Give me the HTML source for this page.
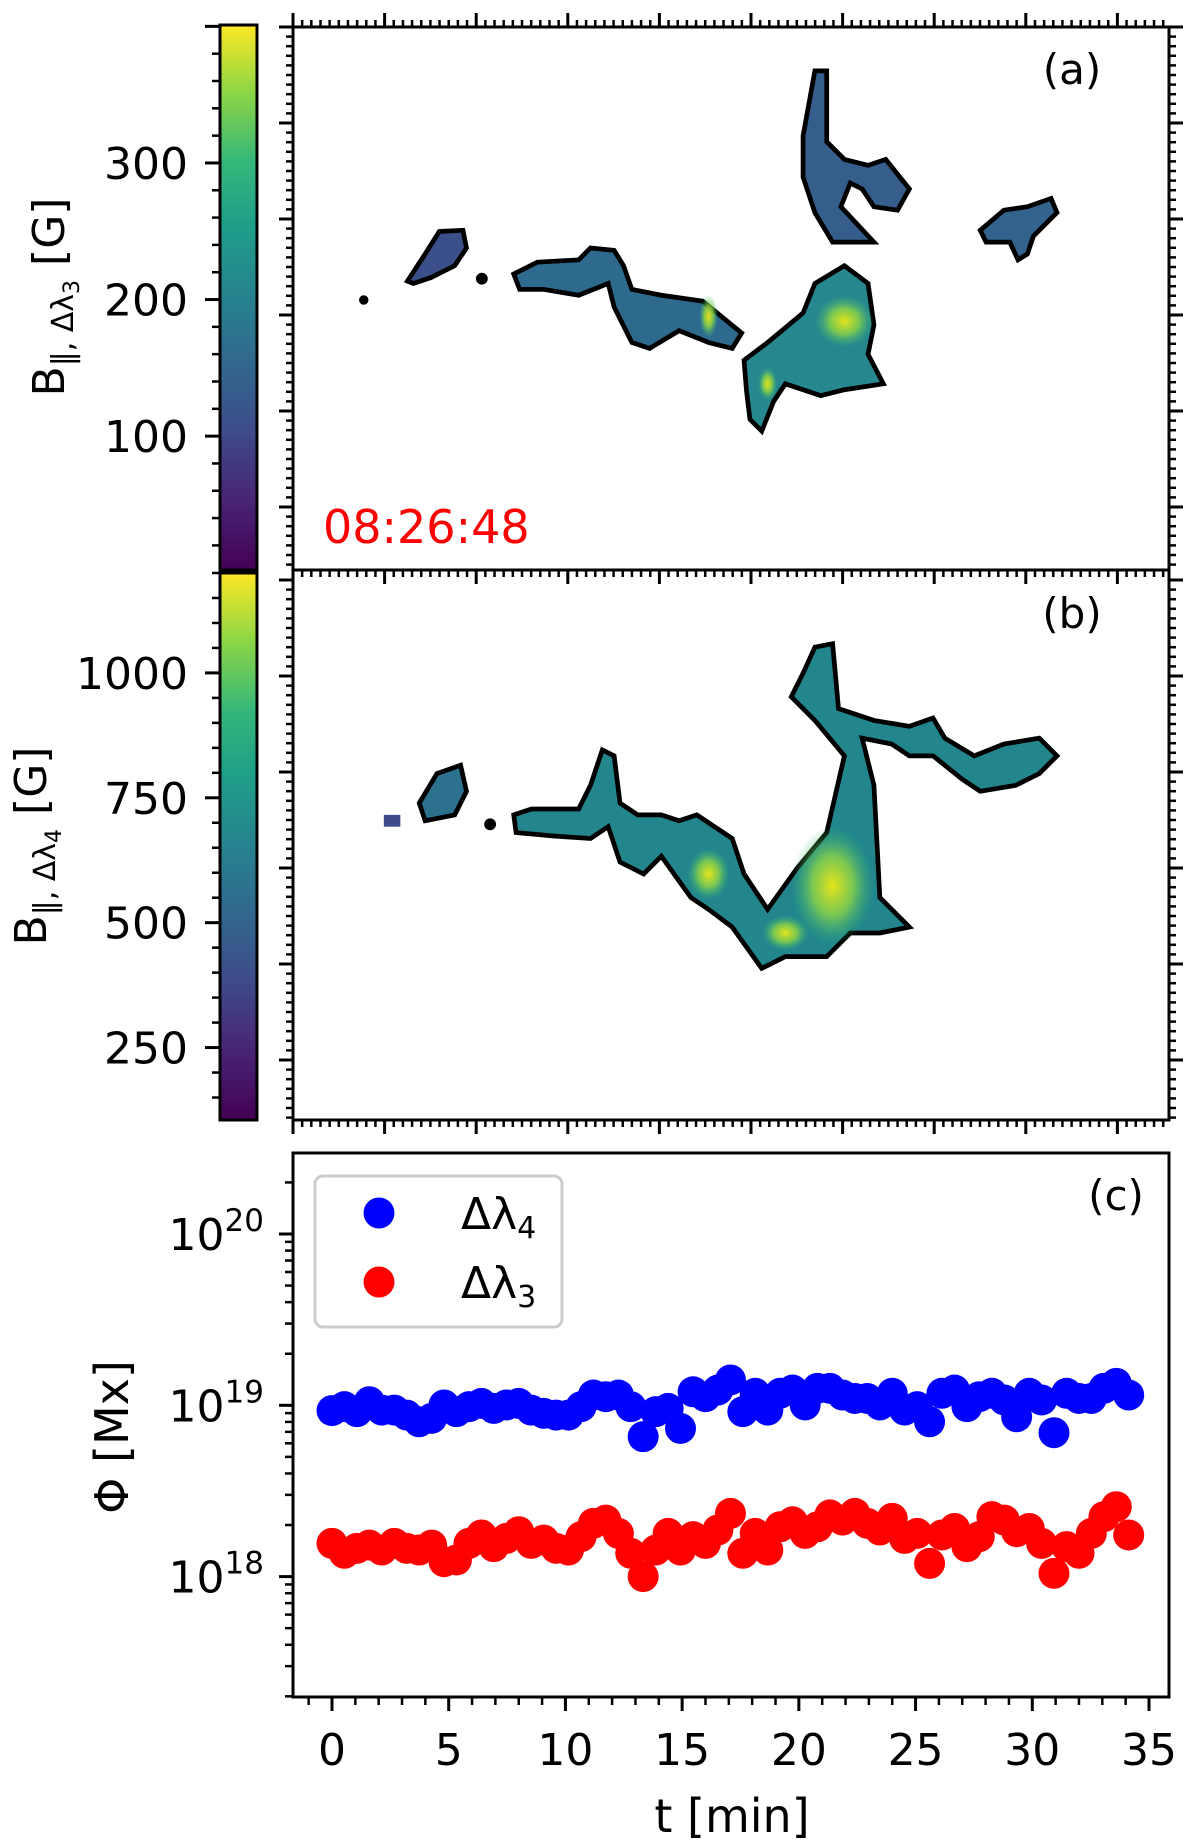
<!DOCTYPE html>
<html><head><meta charset="utf-8">
<style>
html,body{margin:0;padding:0;background:#fff;}
svg{display:block;font-family:"DejaVu Sans","Liberation Sans",sans-serif;}
</style></head>
<body>
<svg id="fig" width="1200" height="1846" viewBox="0 0 1200 1846" xmlns="http://www.w3.org/2000/svg">
<defs>
<linearGradient id="viridis" x1="0" y1="1" x2="0" y2="0">
<stop offset="0" stop-color="#440154"/><stop offset="0.13" stop-color="#482576"/>
<stop offset="0.25" stop-color="#3e4a89"/><stop offset="0.38" stop-color="#31688e"/>
<stop offset="0.5" stop-color="#26828e"/><stop offset="0.63" stop-color="#1f9e89"/>
<stop offset="0.75" stop-color="#35b779"/><stop offset="0.88" stop-color="#90d743"/>
<stop offset="1" stop-color="#fde725"/>
</linearGradient>
<radialGradient id="hot"><stop offset="0" stop-color="#e8e419"/><stop offset="0.5" stop-color="#8fd744" stop-opacity="0.8"/><stop offset="1" stop-color="#35b779" stop-opacity="0"/></radialGradient>
</defs>

<rect x="220" y="25" width="37" height="545" fill="url(#viridis)" stroke="#000" stroke-width="3"/>
<rect x="220" y="573" width="37" height="547" fill="url(#viridis)" stroke="#000" stroke-width="3"/>
<g id="cbticks"></g>

<text transform="translate(64,297) rotate(-90)" text-anchor="middle" font-size="44">B<tspan font-size="30" dy="9">‖, Δλ</tspan><tspan font-size="22" dy="6">3</tspan><tspan dy="-15"> [G]</tspan></text>
<text transform="translate(46,846) rotate(-90)" text-anchor="middle" font-size="44">B<tspan font-size="30" dy="9">‖, Δλ</tspan><tspan font-size="22" dy="6">4</tspan><tspan dy="-15"> [G]</tspan></text>

<g transform="scale(1.181)" stroke="#000" stroke-width="4" stroke-linejoin="miter">
<polygon fill="#3b4f8a" points="345,238 360,215 372,196 392,195 395,210 385,225 365,235 350,240"/>
<polygon fill="#2d6a8e" points="435,232 455,222 490,220 500,210 520,212 528,225 535,245 560,250 595,255 628,282 620,295 600,290 575,280 550,295 535,290 520,260 515,240 490,250 460,245 440,245"/>
<polygon fill="#27878e" points="630,305 650,290 680,265 690,240 715,225 735,240 740,275 735,300 748,325 715,330 695,335 665,325 655,340 645,365 635,355 632,330"/>
<polygon fill="#365e8d" points="680,115 690,60 700,60 700,120 715,135 735,140 750,135 762,150 770,160 760,178 740,175 730,160 720,155 712,175 740,205 705,205 690,180 680,150"/>
<polygon fill="#33638d" points="830,195 850,178 870,175 890,168 895,180 875,200 870,215 862,220 855,205 835,205"/>
<ellipse fill="url(#hot)" stroke="none" cx="600" cy="268" rx="8" ry="18"/>
<ellipse fill="url(#hot)" stroke="none" cx="715" cy="272" rx="25" ry="22"/>
<ellipse fill="url(#hot)" stroke="none" cx="650" cy="325" rx="8" ry="14"/>
<circle cx="308" cy="254" r="2" fill="#000"/><circle cx="408" cy="236" r="3" fill="#000"/>
</g>
<g transform="scale(1.181)" stroke="#000" stroke-width="4" stroke-linejoin="miter">
<polygon fill="#2c728e" points="355,680 370,655 390,648 395,670 385,690 360,695"/>
<polygon fill="#22868c" points="435,690 450,685 490,685 500,665 510,635 520,640 525,680 540,690 560,690 575,695 590,690 620,710 630,740 650,770 675,735 700,705 715,640 690,610 670,590 680,570 690,548 705,545 710,600 740,610 770,615 790,608 800,625 825,640 850,630 880,625 895,640 880,655 860,665 830,670 815,660 790,640 770,640 755,630 730,625 740,665 745,760 770,785 745,790 720,790 700,810 665,810 645,820 620,785 600,770 585,760 560,725 545,740 525,730 515,700 500,710 470,708 437,705"/>
<ellipse fill="url(#hot)" stroke="none" cx="705" cy="750" rx="35" ry="50"/>
<ellipse fill="url(#hot)" stroke="none" cx="600" cy="740" rx="18" ry="22"/>
<ellipse fill="url(#hot)" stroke="none" cx="665" cy="790" rx="20" ry="15"/>
<rect x="325" y="690" width="14" height="10" fill="#3e4a89" stroke="none"/>
<circle cx="415" cy="698" r="3" fill="#000"/>
</g>
<rect x="293" y="27" width="876" height="543" fill="none" stroke="#000" stroke-width="3"/>
<rect x="293" y="570" width="876" height="550" fill="none" stroke="#000" stroke-width="3"/>
<g id="mapticks"></g>
<text x="1072" y="84" text-anchor="middle" font-size="42">(a)</text>
<text x="1072" y="628" text-anchor="middle" font-size="42">(b)</text>
<text x="323" y="543" font-size="46" fill="#ff0000">08:26:48</text>

<g id="plotc"></g>
<rect x="293" y="1153" width="876" height="544" fill="none" stroke="#000" stroke-width="3"/>
<text x="1116" y="1210" text-anchor="middle" font-size="42">(c)</text>
<g>
<rect x="315" y="1176" width="247" height="151" rx="8" fill="#fff" fill-opacity="0.8" stroke="#cccccc" stroke-width="3"/>
<circle cx="379" cy="1213" r="15.5" fill="#0000ff"/>
<circle cx="379" cy="1282" r="15.5" fill="#ff0000"/>
<text x="461" y="1229" font-size="44">Δλ<tspan font-size="30" dy="9">4</tspan></text>
<text x="461" y="1298" font-size="44">Δλ<tspan font-size="30" dy="9">3</tspan></text>
</g>
<text transform="translate(128,1437) rotate(-90)" text-anchor="middle" font-size="46">Φ [Mx]</text>
<text x="732" y="1832" text-anchor="middle" font-size="46">t [min]</text>
</svg>
<script>
const times = [0,0.53,1.07,1.6,2.13,2.67,3.2,3.73,4.27,4.8,5.33,5.87,6.4,6.93,7.47,8,8.53,9.07,9.6,10.13,10.67,11.2,11.73,12.27,12.8,13.33,13.87,14.4,14.93,15.47,16,16.53,17.07,17.6,18.13,18.67,19.2,19.73,20.27,20.8,21.33,21.87,22.4,22.93,23.47,24,24.53,25.07,25.6,26.13,26.67,27.2,27.73,28.27,28.8,29.33,29.87,30.4,30.93,31.47,32,32.53,33.07,33.6,34.13];
const logFluxDl4 = [18.969,18.992,18.963,19.021,18.972,18.972,18.943,18.904,18.924,19.002,18.963,18.992,19.011,18.982,19.002,19.011,18.972,18.953,18.943,18.943,18.992,19.060,19.050,19.060,18.992,18.817,18.963,18.982,18.865,19.079,19.050,19.089,19.148,18.963,19.070,18.972,19.070,19.089,19.002,19.099,19.099,19.060,19.040,19.040,19.002,19.070,18.972,18.992,18.904,19.070,19.089,18.992,19.050,19.070,19.031,18.933,19.070,19.031,18.840,19.070,19.040,19.040,19.099,19.128,19.060];
const logFluxDl3 = [18.194,18.136,18.165,18.184,18.155,18.194,18.165,18.155,18.184,18.087,18.097,18.194,18.243,18.175,18.223,18.262,18.194,18.213,18.165,18.155,18.233,18.311,18.330,18.252,18.136,18.000,18.155,18.252,18.155,18.233,18.194,18.272,18.369,18.136,18.252,18.155,18.291,18.320,18.252,18.291,18.360,18.330,18.369,18.311,18.272,18.340,18.223,18.252,18.077,18.243,18.281,18.175,18.233,18.350,18.330,18.262,18.281,18.194,18.019,18.175,18.136,18.252,18.350,18.408,18.243];
const xTicks = [0,5,10,15,20,25,30,35];
const yTickExps = [18,19,20];
const cbATicks = [100,200,300];
const cbBTicks = [250,500,750,1000];

const NS = "http://www.w3.org/2000/svg";
function mk(parent, tag, attrs){const e=document.createElementNS(NS,tag);for(const k in attrs)e.setAttribute(k,attrs[k]);parent.appendChild(e);return e;}
const X0=332, XS=(1149-332)/35;
const sx = t => X0 + t*XS;
const sy = lg => 1234 + (20-lg)*171.3;
const plot = document.getElementById('plotc');

for(let m=-2;m<=36;m++){const x=sx(m); if(x<293||x>1169) continue;
  const major = m%5===0;
  const l=mk(plot,'line',{x1:x,y1:1697,x2:x,y2:1697+(major?14:8),stroke:'#000','stroke-width':major?3:2.5});
  
  
}
xTicks.forEach(v=>{const t=mk(plot,'text',{x:sx(v),y:1765,'text-anchor':'middle','font-size':44});t.textContent=v;
  
  });
for(let d=17;d<=20;d++){for(let k=1;k<10;k++){const y=sy(d+Math.log10(k)); if(y<1153||y>1697) continue;
  const l=mk(plot,'line',{x1:293,y1:y,x2:293-(k===1?14:8),y2:y,stroke:'#000','stroke-width':k===1?3:2.5});
  
  }}
yTickExps.forEach(e=>{const t=mk(plot,'text',{x:264,y:sy(e)+16,'text-anchor':'end','font-size':44});
  t.innerHTML='10<tspan font-size="31" dy="-19">'+e+'</tspan>';
  
  });
times.forEach((t,i)=>{const c=mk(plot,'circle',{cx:sx(t),cy:sy(logFluxDl4[i]),r:15.5,fill:'#0000ff'});
  
  });
times.forEach((t,i)=>{const c=mk(plot,'circle',{cx:sx(t),cy:sy(logFluxDl3[i]),r:15.5,fill:'#ff0000'});
  
  });

const cb=document.getElementById('cbticks');
const cya = v => 570 - (v-2)*(545/399);
const cyb = v => 1120 - (v-105)*(547/1095);
for(let v=20;v<=400;v+=20){const y=cya(v);if(y<25)continue;const mj=v%100===0;mk(cb,'line',{x1:220,y1:y,x2:220-(mj?15:8),y2:y,stroke:'#000','stroke-width':mj?3:2.5});}
for(let v=150;v<=1200;v+=50){const y=cyb(v);if(y<573)continue;const mj=v%250===0;mk(cb,'line',{x1:220,y1:y,x2:220-(mj?15:8),y2:y,stroke:'#000','stroke-width':mj?3:2.5});}
cbATicks.forEach(v=>{const t=mk(cb,'text',{x:188,y:cya(v)+16,'text-anchor':'end','font-size':44});t.textContent=v;
  
  });
cbBTicks.forEach(v=>{const t=mk(cb,'text',{x:188,y:cyb(v)+16,'text-anchor':'end','font-size':44});t.textContent=v;
  
  });

const mt=document.getElementById('mapticks');
function hTicks(y,dir){for(let i=0;;i++){const x=293+i*9.16;if(x>1170)break;const mj=i%10===0;mk(mt,'line',{x1:x,y1:y,x2:x,y2:y+dir*(mj?14:7),stroke:'#000','stroke-width':mj?3:2.5});}}
function vTicks(x,y0,y1,dir){for(let i=0;;i++){const y=y0+i*9.6;if(y>y1)break;const mj=i%10===0;mk(mt,'line',{x1:x,y1:y,x2:x+dir*(mj?14:7),y2:y,stroke:'#000','stroke-width':mj?3:2.5});}}
hTicks(27,-1);hTicks(570,1);hTicks(1120,1);
vTicks(293,27,570,-1);vTicks(1169,27,570,1);vTicks(293,580,1120,-1);vTicks(1169,580,1120,1);
</script>
</body></html>
